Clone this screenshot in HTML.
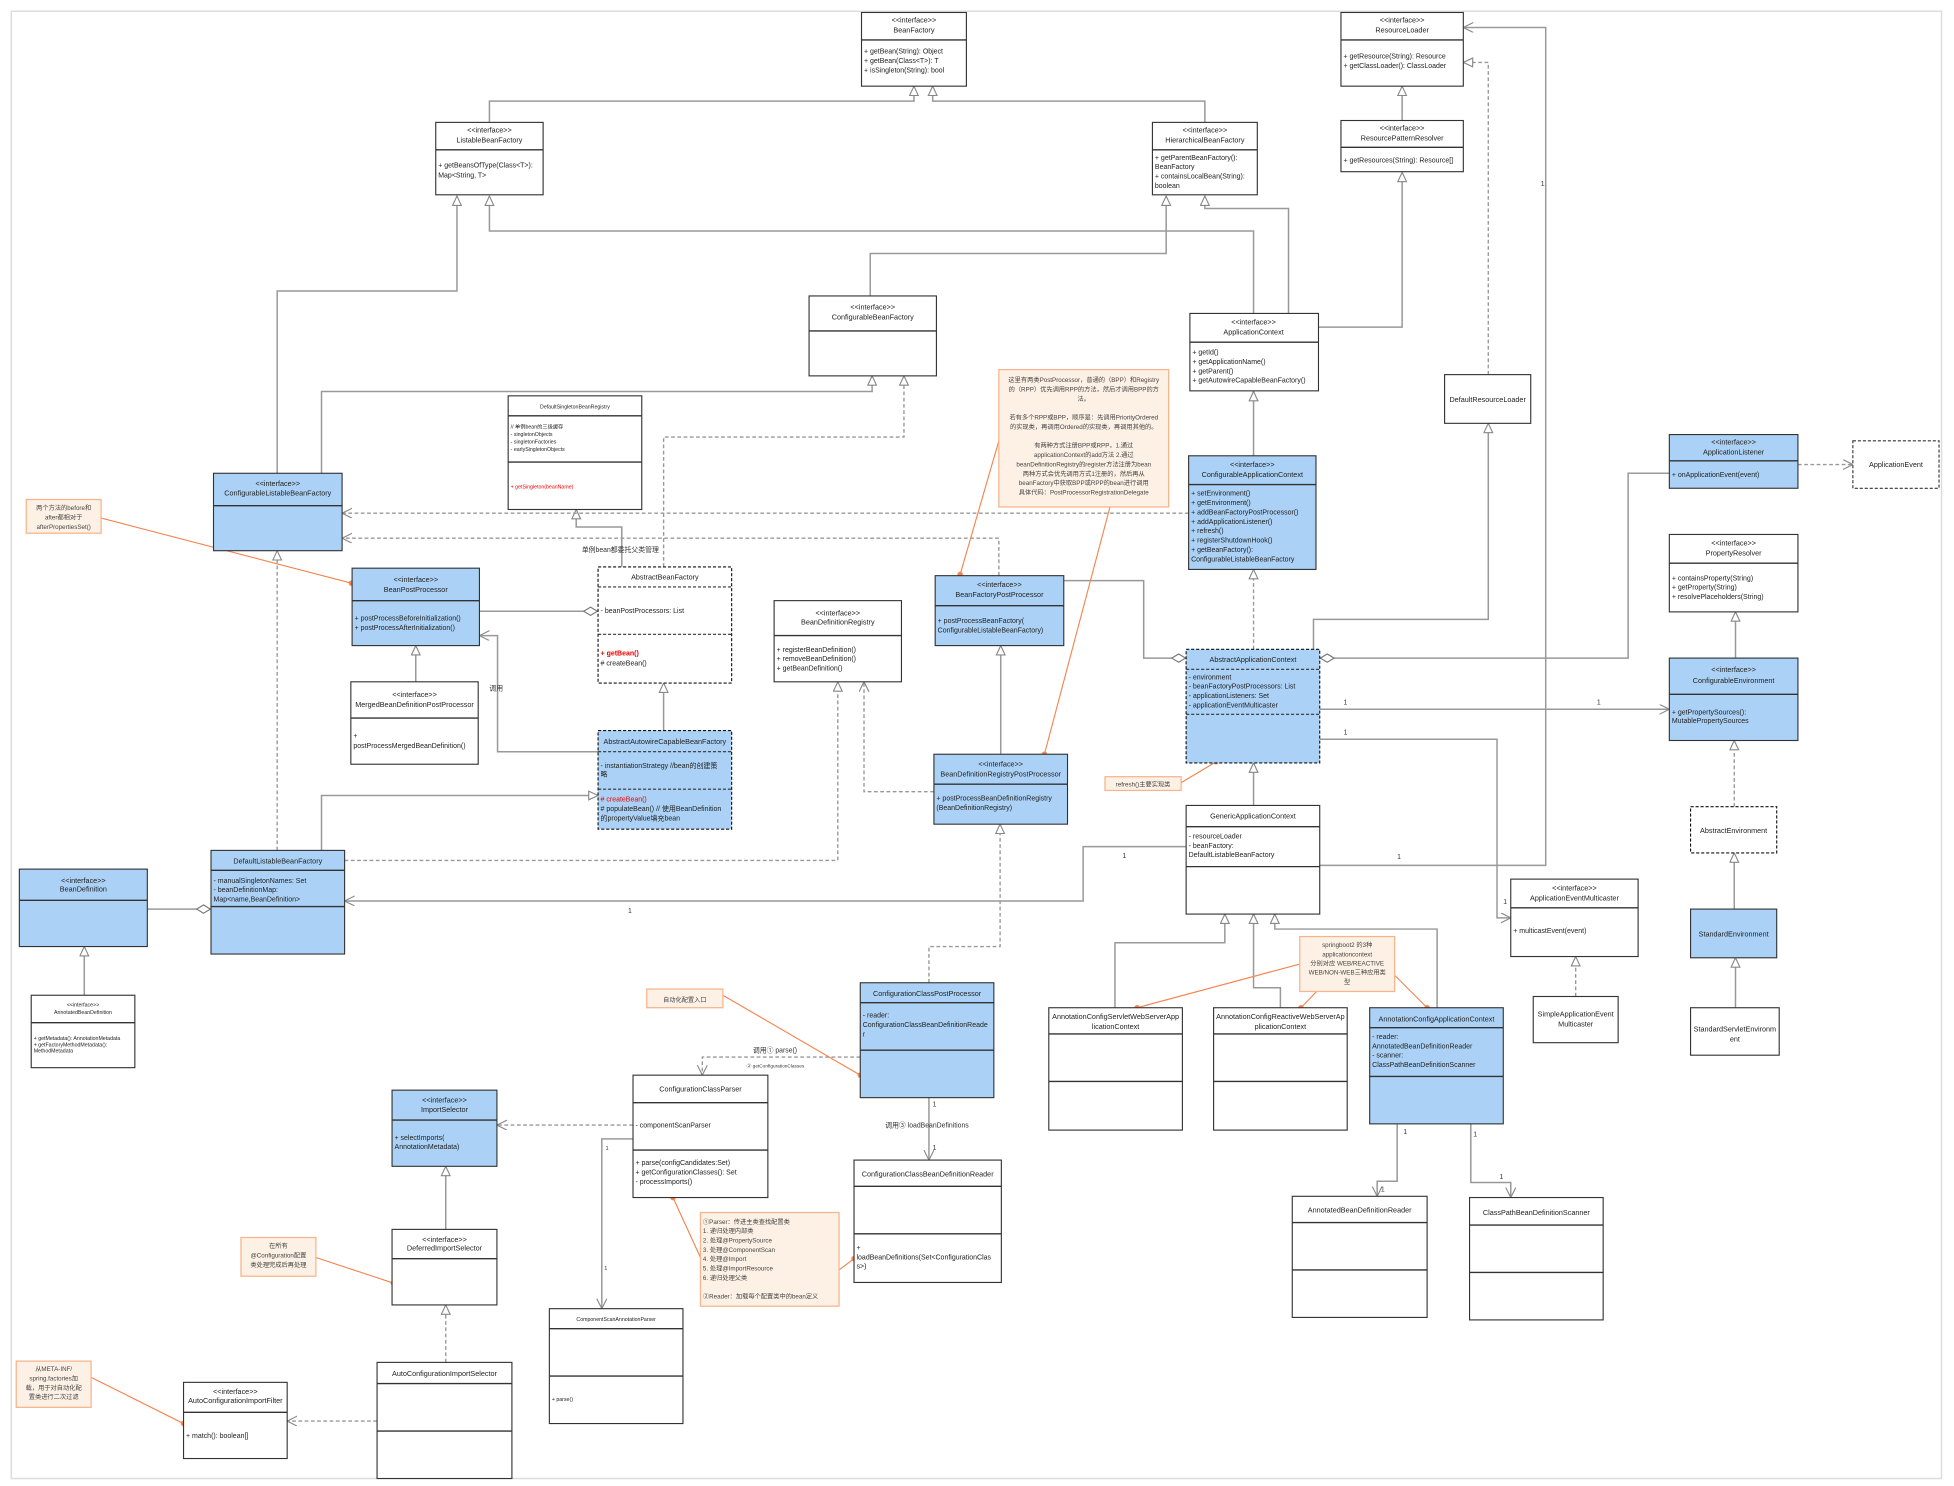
<!DOCTYPE html>
<html><head><meta charset="utf-8"><style>
html,body{margin:0;padding:0;background:#fff;}
svg{display:block}
text{font-family:"Liberation Sans","Noto Sans CJK SC",sans-serif;fill:#222;font-size:5.6px}
.h{text-anchor:middle;font-size:5.8px}
.s{font-size:4.2px}
.r{fill:#e00}
.b{fill:#fff;stroke:#333;stroke-width:0.9}
.bl{fill:#abd2f6;stroke:#333;stroke-width:0.9}
.bd{stroke-dasharray:2.5,1.5}
.dv{stroke:#333;stroke-width:1.1}
.dvd{stroke:#333;stroke-width:0.9;stroke-dasharray:2.5,1.5}
.c{fill:none;stroke:#999;stroke-width:1.2}
.d{fill:none;stroke:#999;stroke-width:1.1;stroke-dasharray:3,2}
.o{fill:none;stroke:#f5834e;stroke-width:0.9}
.n{fill:#fdf1e6;stroke:#f7b48a;stroke-width:1}
.nt{font-size:5px;text-anchor:middle;fill:#444}
.l{font-size:5.5px;fill:#333}
</style></head><body>
<svg width="1954" height="1486" viewBox="0 0 1565 1190" preserveAspectRatio="none" xmlns="http://www.w3.org/2000/svg">
<defs>
<marker id="tri" markerUnits="userSpaceOnUse" markerWidth="10" markerHeight="10" refX="8" refY="4" orient="auto"><path d="M0.5,0.5 L8,4 L0.5,7.5 z" fill="#fff" stroke="#888" stroke-width="0.9"/></marker>
<marker id="op" markerUnits="userSpaceOnUse" markerWidth="10" markerHeight="10" refX="8" refY="4" orient="auto"><path d="M0,0 L8,4 L0,8" fill="none" stroke="#888" stroke-width="0.9"/></marker>
<marker id="dia" markerUnits="userSpaceOnUse" markerWidth="14" markerHeight="10" refX="12" refY="4" orient="auto"><path d="M0.5,4 L6,0.7 L11.5,4 L6,7.3 z" fill="#fff" stroke="#777" stroke-width="0.9"/></marker>
<marker id="dot" markerUnits="userSpaceOnUse" markerWidth="6" markerHeight="6" refX="3" refY="3"><circle cx="3" cy="3" r="2.2" fill="#f5834e"/></marker>
</defs>
<rect x="0" y="0" width="1565" height="1190" fill="#fff"/>
<rect x="9" y="9" width="1546" height="1175" fill="none" stroke="#ddd" stroke-width="1.2"/>

<!-- connectors -->
<path class="c" d="M392,98 V81 H732 V69" marker-end="url(#tri)"/>
<path class="c" d="M965,98 V81 H747 V69" marker-end="url(#tri)"/>
<path class="c" d="M697,237 V203 H934 V157" marker-end="url(#tri)"/>
<path class="c" d="M1004,251 V185 H392 V157" marker-end="url(#tri)"/>
<path class="c" d="M1032,251 V167 H965 V157" marker-end="url(#tri)"/>
<path class="c" d="M1056,262 H1123 V138" marker-end="url(#tri)"/>
<path class="c" d="M1123,96.5 V69" marker-end="url(#tri)"/>
<path class="d" d="M1192,300 V50 H1172" marker-end="url(#tri)"/>
<path class="c" d="M222,379 V233 H366 V157" marker-end="url(#tri)"/>
<path class="c" d="M257.5,379 V313.5 H698.5 V301" marker-end="url(#tri)"/>
<path class="d" d="M531.5,454 V350 H724 V301" marker-end="url(#tri)"/>
<path class="c" d="M498,454 V422 H461.5 V408" marker-end="url(#tri)"/>
<path class="d" d="M952,411 H274" marker-end="url(#op)"/>
<path class="d" d="M800,461 V431 H274" marker-end="url(#op)"/>
<path class="c" d="M384,489.5 H479" marker-end="url(#dia)"/>
<path class="c" d="M479,602 H398.5 V509 H384" marker-end="url(#op)"/>
<path class="c" d="M333,546 V517" marker-end="url(#tri)"/>
<path class="d" d="M222,681 V441" marker-end="url(#tri)"/>
<path class="c" d="M531.5,585 V547" marker-end="url(#tri)"/>
<path class="c" d="M257.5,681 V637 H479" marker-end="url(#tri)"/>
<path class="d" d="M276,689 H671 V546" marker-end="url(#tri)"/>
<path class="d" d="M748,634 H692 V546" marker-end="url(#op)"/>
<path class="c" d="M801.5,604 V517" marker-end="url(#tri)"/>
<path class="c" d="M852,465 H916 V527 H950" marker-end="url(#dia)"/>
<path class="d" d="M1004,520 V456" marker-end="url(#tri)"/>
<path class="c" d="M1004,365 V313.5" marker-end="url(#tri)"/>
<path class="c" d="M1337,379 H1304 V527 H1057" marker-end="url(#dia)"/>
<path class="c" d="M1052,520 V496 H1192 V339" marker-end="url(#tri)"/>
<path class="c" d="M1057,568 H1337" marker-end="url(#op)"/>
<path class="c" d="M1057,592 H1199 V735 H1210" marker-end="url(#op)"/>
<path class="c" d="M1057,693 H1238 V22 H1172" marker-end="url(#op)"/>
<path class="c" d="M1004,645 V611" marker-end="url(#tri)"/>
<path class="c" d="M950,678 H867.5 V721.5 H276" marker-end="url(#op)"/>
<path class="c" d="M893,807 V755 H981 V732" marker-end="url(#tri)"/>
<path class="c" d="M1025.5,807 V791 H1004 V732" marker-end="url(#tri)"/>
<path class="c" d="M1151,807 V744 H1021 V732" marker-end="url(#tri)"/>
<path class="d" d="M1262,798 V766" marker-end="url(#tri)"/>
<path class="c" d="M1390,807 V767" marker-end="url(#tri)"/>
<path class="c" d="M1389,728 V683" marker-end="url(#tri)"/>
<path class="d" d="M1389,646 V593" marker-end="url(#tri)"/>
<path class="c" d="M1390,527 V490" marker-end="url(#tri)"/>
<path class="d" d="M1440,372 H1484" marker-end="url(#op)"/>
<path class="c" d="M1119,900 V946 H1103 V958" marker-end="url(#op)"/>
<path class="c" d="M1178,900 V947 H1210 V959" marker-end="url(#op)"/>
<path class="c" d="M118,728 H169" marker-end="url(#dia)"/>
<path class="c" d="M67.5,797 V758" marker-end="url(#tri)"/>
<path class="d" d="M744,787 V758 H801 V660" marker-end="url(#tri)"/>
<path class="d" d="M689,846.5 H562.5 V861" marker-end="url(#op)"/>
<path class="c" d="M744,879 V929" marker-end="url(#op)"/>
<path class="d" d="M507,901 H398" marker-end="url(#op)"/>
<path class="c" d="M507,912 H482 V1048" marker-end="url(#op)"/>
<path class="c" d="M357,984.5 V934" marker-end="url(#tri)"/>
<path class="d" d="M357,1091 V1045" marker-end="url(#tri)"/>
<path class="d" d="M302,1138 H230" marker-end="url(#op)"/>

<!-- labels -->
<text class="l" x="1076" y="564">1</text><text class="l" x="1279" y="564">1</text>
<text class="l" x="1076" y="588">1</text><text class="l" x="1204" y="724">1</text>
<text class="l" x="1234" y="149">1</text><text class="l" x="1119" y="688">1</text>
<text class="l" x="899" y="687">1</text><text class="l" x="503" y="731">1</text>
<text class="l" x="1124" y="908">1</text><text class="l" x="1106" y="954">1</text>
<text class="l" x="1180" y="910">1</text><text class="l" x="1201" y="944">1</text>
<text class="l" x="747" y="886">1</text><text class="l" x="747" y="921">1</text>
<text class="l" x="485" y="921" style="font-size:4.5px">1</text><text class="l" x="484" y="1017" style="font-size:4.5px">1</text>
<text class="l" x="466" y="442">单例bean都委托父类管理</text>
<text class="l" x="392" y="553">调用</text>
<text class="l" x="603" y="843">调用① parse()</text>
<text class="l" x="598" y="855" style="font-size:3.8px">② getConfigurationClasses</text>
<text class="l" x="709" y="903">调用③ loadBeanDefinitions</text>

<!-- orange note lines -->
<path class="o" d="M81.5,415 L281.5,467" marker-end="url(#dot)"/>
<path class="o" d="M800,353 L769,460" marker-end="url(#dot)"/>
<path class="o" d="M889,406 L836.5,604" marker-end="url(#dot)"/>
<path class="o" d="M945.6,627 L974,610" marker-end="url(#dot)"/>
<path class="o" d="M1041,772 L910.7,807" marker-end="url(#dot)"/>
<path class="o" d="M1054.5,794 L1042,807" marker-end="url(#dot)"/>
<path class="o" d="M1117,781 L1143,807" marker-end="url(#dot)"/>
<path class="o" d="M579,797 L689,861" marker-end="url(#dot)"/>
<path class="o" d="M561,1007 L539,959" marker-end="url(#dot)"/>
<path class="o" d="M672,1017 L684,1008" marker-end="url(#dot)"/>
<path class="o" d="M253,1007 L315,1027.5" marker-end="url(#dot)"/>
<path class="o" d="M73,1103 L147,1140" marker-end="url(#dot)"/>

<!-- BeanFactory -->
<rect class="b" x="690" y="10" width="84" height="59"/><line class="dv" x1="690" y1="32" x2="774" y2="32"/>
<text class="h" x="732" y="18">&lt;&lt;interface&gt;&gt;</text><text class="h" x="732" y="26">BeanFactory</text>
<text x="692" y="43">+  getBean(String): Object</text><text x="692" y="50.5">+  getBean(Class&lt;T&gt;): T</text><text x="692" y="58">+  isSingleton(String): bool</text>

<!-- ListableBeanFactory -->
<rect class="b" x="349" y="98" width="86" height="58"/><line class="dv" x1="349" y1="120" x2="435" y2="120"/>
<text class="h" x="392" y="106">&lt;&lt;interface&gt;&gt;</text><text class="h" x="392" y="114">ListableBeanFactory</text>
<text x="351" y="134">+  getBeansOfType(Class&lt;T&gt;):</text><text x="351" y="142">Map&lt;String, T&gt;</text>

<!-- HierarchicalBeanFactory -->
<rect class="b" x="923" y="98" width="84" height="58"/><line class="dv" x1="923" y1="120" x2="1007" y2="120"/>
<text class="h" x="965" y="106">&lt;&lt;interface&gt;&gt;</text><text class="h" x="965" y="114">HierarchicalBeanFactory</text>
<text x="925" y="128">+  getParentBeanFactory():</text><text x="925" y="135.5">BeanFactory</text><text x="925" y="143">+  containsLocalBean(String):</text><text x="925" y="150.5">boolean</text>

<!-- ResourceLoader -->
<rect class="b" x="1074" y="10" width="98" height="59"/><line class="dv" x1="1074" y1="32" x2="1172" y2="32"/>
<text class="h" x="1123" y="18">&lt;&lt;interface&gt;&gt;</text><text class="h" x="1123" y="26">ResourceLoader</text>
<text x="1076" y="47">+  getResource(String): Resource</text><text x="1076" y="54.5">+  getClassLoader(): ClassLoader</text>

<!-- ResourcePatternResolver -->
<rect class="b" x="1074" y="96.5" width="98" height="41"/><line class="dv" x1="1074" y1="118" x2="1172" y2="118"/>
<text class="h" x="1123" y="104.5">&lt;&lt;interface&gt;&gt;</text><text class="h" x="1123" y="112.5">ResourcePatternResolver</text>
<text x="1076" y="130">+  getResources(String): Resource[]</text>

<!-- ConfigurableBeanFactory -->
<rect class="b" x="648" y="237" width="102" height="64"/><line class="dv" x1="648" y1="265" x2="750" y2="265"/>
<text class="h" x="699" y="248">&lt;&lt;interface&gt;&gt;</text><text class="h" x="699" y="256">ConfigurableBeanFactory</text>

<!-- ApplicationContext -->
<rect class="b" x="953" y="251" width="103" height="62"/><line class="dv" x1="953" y1="274" x2="1056" y2="274"/>
<text class="h" x="1004" y="260">&lt;&lt;interface&gt;&gt;</text><text class="h" x="1004" y="268">ApplicationContext</text>
<text x="955" y="284">+  getId()</text><text x="955" y="291.5">+  getApplicationName()</text><text x="955" y="299">+  getParent()</text><text x="955" y="306.5">+  getAutowireCapableBeanFactory()</text>

<!-- DefaultResourceLoader -->
<rect class="b" x="1157" y="300" width="69" height="39"/>
<text class="h" x="1191.5" y="322">DefaultResourceLoader</text>

<!-- DefaultSingletonBeanRegistry -->
<rect class="b" x="407" y="317" width="107" height="91"/><line class="dv" x1="407" y1="333" x2="514" y2="333"/><line class="dv" x1="407" y1="370" x2="514" y2="370"/>
<text class="h s" x="460.5" y="327">DefaultSingletonBeanRegistry</text>
<text class="s" x="409" y="343">// 单例bean的三级缓存</text><text class="s" x="409" y="349">- singletonObjects</text><text class="s" x="409" y="355">- singletonFactories</text><text class="s" x="409" y="361">- earlySingletonObjects</text>
<text class="s r" x="409" y="391">+  getSingleton(beanName)</text>

<!-- ConfigurableListableBeanFactory -->
<rect class="bl" x="171" y="379" width="103" height="62"/><line class="dv" x1="171" y1="405" x2="274" y2="405"/>
<text class="h" x="222.5" y="389">&lt;&lt;interface&gt;&gt;</text><text class="h" x="222.5" y="397">ConfigurableListableBeanFactory</text>

<!-- ConfigurableApplicationContext -->
<rect class="bl" x="952" y="365" width="102" height="91"/><line class="dv" x1="952" y1="388" x2="1054" y2="388"/>
<text class="h" x="1003" y="374">&lt;&lt;interface&gt;&gt;</text><text class="h" x="1003" y="382">ConfigurableApplicationContext</text>
<text x="954" y="397">+  setEnvironment()</text><text x="954" y="404.5">+  getEnvironment()</text><text x="954" y="412">+  addBeanFactoryPostProcessor()</text><text x="954" y="419.5">+  addApplicationListener()</text><text x="954" y="427">+  refresh()</text><text x="954" y="434.5">+  registerShutdownHook()</text><text x="954" y="442">+  getBeanFactory():</text><text x="954" y="449.5">ConfigurableListableBeanFactory</text>

<!-- ApplicationListener -->
<rect class="bl" x="1337" y="348" width="103" height="43"/><line class="dv" x1="1337" y1="369" x2="1440" y2="369"/>
<text class="h" x="1388.5" y="356">&lt;&lt;interface&gt;&gt;</text><text class="h" x="1388.5" y="364">ApplicationListener</text>
<text x="1339" y="382">+  onApplicationEvent(event)</text>

<!-- ApplicationEvent -->
<rect class="b bd" x="1484" y="353" width="69" height="38"/>
<text class="h" x="1518.5" y="374">ApplicationEvent</text>

<!-- PropertyResolver -->
<rect class="b" x="1337" y="428" width="103" height="62"/><line class="dv" x1="1337" y1="451" x2="1440" y2="451"/>
<text class="h" x="1388.5" y="437">&lt;&lt;interface&gt;&gt;</text><text class="h" x="1388.5" y="445">PropertyResolver</text>
<text x="1339" y="465">+  containsProperty(String)</text><text x="1339" y="472">+  getProperty(String)</text><text x="1339" y="479.5">+  resolvePlaceholders(String)</text>

<!-- ConfigurableEnvironment -->
<rect class="bl" x="1337" y="527" width="103" height="66"/><line class="dv" x1="1337" y1="556" x2="1440" y2="556"/>
<text class="h" x="1388.5" y="538">&lt;&lt;interface&gt;&gt;</text><text class="h" x="1388.5" y="547">ConfigurableEnvironment</text>
<text x="1339" y="572">+  getPropertySources():</text><text x="1339" y="579">MutablePropertySources</text>

<!-- BeanPostProcessor -->
<rect class="bl" x="282" y="455" width="102" height="62"/><line class="dv" x1="282" y1="481" x2="384" y2="481"/>
<text class="h" x="333" y="466">&lt;&lt;interface&gt;&gt;</text><text class="h" x="333" y="474">BeanPostProcessor</text>
<text x="284" y="497">+  postProcessBeforeInitialization()</text><text x="284" y="504.5">+  postProcessAfterInitialization()</text>

<!-- AbstractBeanFactory -->
<rect class="b bd" x="479" y="454" width="107" height="93" style="stroke:#111"/><line class="dvd" x1="479" y1="470" x2="586" y2="470"/><line class="dvd" x1="479" y1="508" x2="586" y2="508"/>
<text class="h" x="532.5" y="464">AbstractBeanFactory</text>
<text x="481" y="491">- beanPostProcessors: List</text>
<text x="481" y="525" class="r" style="font-weight:bold">+  getBean()</text><text x="481" y="533">#  createBean()</text>

<!-- BeanDefinitionRegistry -->
<rect class="b" x="620" y="481" width="102" height="65"/><line class="dv" x1="620" y1="509" x2="722" y2="509"/>
<text class="h" x="671" y="493">&lt;&lt;interface&gt;&gt;</text><text class="h" x="671" y="500">BeanDefinitionRegistry</text>
<text x="622" y="522">+  registerBeanDefinition()</text><text x="622" y="529.5">+  removeBeanDefinition()</text><text x="622" y="537">+  getBeanDefinition()</text>

<!-- BeanFactoryPostProcessor -->
<rect class="bl" x="749" y="461" width="103" height="56"/><line class="dv" x1="749" y1="485" x2="852" y2="485"/>
<text class="h" x="800.5" y="470">&lt;&lt;interface&gt;&gt;</text><text class="h" x="800.5" y="478">BeanFactoryPostProcessor</text>
<text x="751" y="499">+  postProcessBeanFactory(</text><text x="751" y="506.5">ConfigurableListableBeanFactory)</text>

<!-- MergedBeanDefinitionPostProcessor -->
<rect class="b" x="281" y="546" width="102" height="66"/><line class="dv" x1="281" y1="575" x2="383" y2="575"/>
<text class="h" x="332" y="558">&lt;&lt;interface&gt;&gt;</text><text class="h" x="332" y="566">MergedBeanDefinitionPostProcessor</text>
<text x="283" y="591">+</text><text x="283" y="599">postProcessMergedBeanDefinition()</text>

<!-- AbstractAutowireCapableBeanFactory -->
<rect class="bl bd" x="479" y="585" width="107" height="79" style="stroke:#111"/><line class="dvd" x1="479" y1="602" x2="586" y2="602"/><line class="dvd" x1="479" y1="632" x2="586" y2="632"/>
<text class="h" x="532.5" y="596">AbstractAutowireCapableBeanFactory</text>
<text x="481" y="615">- instantiationStrategy  //bean的创建策</text><text x="481" y="622">略</text>
<text x="481" y="642" class="r">#  createBean()</text><text x="481" y="649.5">#  populateBean() // 使用BeanDefinition</text><text x="481" y="657">的propertyValue填充bean</text>

<!-- BeanDefinitionRegistryPostProcessor -->
<rect class="bl" x="748" y="604" width="107" height="56"/><line class="dv" x1="748" y1="628" x2="855" y2="628"/>
<text class="h" x="801.5" y="614">&lt;&lt;interface&gt;&gt;</text><text class="h" x="801.5" y="622">BeanDefinitionRegistryPostProcessor</text>
<text x="750" y="641">+  postProcessBeanDefinitionRegistry</text><text x="750" y="648.5">(BeanDefinitionRegistry)</text>

<!-- AbstractApplicationContext -->
<rect class="bl bd" x="950" y="520" width="107" height="91" style="stroke:#111"/><line class="dvd" x1="950" y1="536" x2="1057" y2="536"/><line class="dvd" x1="950" y1="572" x2="1057" y2="572"/>
<text class="h" x="1003.5" y="530">AbstractApplicationContext</text>
<text x="952" y="544">- environment</text><text x="952" y="551.5">- beanFactoryPostProcessors: List</text><text x="952" y="559">- applicationListeners: Set</text><text x="952" y="566.5">- applicationEventMulticaster</text>

<!-- GenericApplicationContext -->
<rect class="b" x="950" y="645" width="107" height="87"/><line class="dv" x1="950" y1="662" x2="1057" y2="662"/><line class="dv" x1="950" y1="694" x2="1057" y2="694"/>
<text class="h" x="1003.5" y="655.5">GenericApplicationContext</text>
<text x="952" y="671.5">- resourceLoader</text><text x="952" y="679">- beanFactory:</text><text x="952" y="686.5">DefaultListableBeanFactory</text>

<!-- DefaultListableBeanFactory -->
<rect class="bl" x="169" y="681" width="107" height="83"/><line class="dv" x1="169" y1="697" x2="276" y2="697"/><line class="dv" x1="169" y1="726" x2="276" y2="726"/>
<text class="h" x="222.5" y="691.5">DefaultListableBeanFactory</text>
<text x="171" y="707">- manualSingletonNames: Set</text><text x="171" y="714.5">- beanDefinitionMap:</text><text x="171" y="722">Map&lt;name,BeanDefinition&gt;</text>

<!-- BeanDefinition -->
<rect class="bl" x="15.5" y="696" width="102.5" height="62"/><line class="dv" x1="15.5" y1="721" x2="118" y2="721"/>
<text class="h" x="66.75" y="707">&lt;&lt;interface&gt;&gt;</text><text class="h" x="66.75" y="714">BeanDefinition</text>

<!-- AnnotatedBeanDefinition -->
<rect class="b" x="25" y="797" width="83" height="58"/><line class="dv" x1="25" y1="819" x2="108" y2="819"/>
<text class="h s" x="66.5" y="806">&lt;&lt;interface&gt;&gt;</text><text class="h s" x="66.5" y="812">AnnotatedBeanDefinition</text>
<text class="s" x="27" y="833">+  getMetadata(): AnnotationMetadata</text><text class="s" x="27" y="838">+  getFactoryMethodMetadata():</text><text class="s" x="27" y="843">MethodMetadata</text>

<!-- ApplicationEventMulticaster -->
<rect class="b" x="1210" y="704" width="102" height="62"/><line class="dv" x1="1210" y1="727" x2="1312" y2="727"/>
<text class="h" x="1261" y="713">&lt;&lt;interface&gt;&gt;</text><text class="h" x="1261" y="721">ApplicationEventMulticaster</text>
<text x="1212" y="747">+  multicastEvent(event)</text>

<!-- SimpleApplicationEventMulticaster -->
<rect class="b" x="1228" y="798" width="68" height="37"/>
<text class="h" x="1262" y="814">SimpleApplicationEvent</text><text class="h" x="1262" y="822">Multicaster</text>

<!-- Environments -->
<rect class="b bd" x="1354" y="646" width="69" height="37" style="stroke:#111"/>
<text class="h" x="1388.5" y="667">AbstractEnvironment</text>
<rect class="bl" x="1354" y="728" width="69" height="39"/>
<text class="h" x="1388.5" y="750">StandardEnvironment</text>
<rect class="b" x="1354" y="807" width="71" height="38"/>
<text class="h" x="1389.5" y="826">StandardServletEnvironm</text><text class="h" x="1389.5" y="834">ent</text>

<!-- Servlet ctx -->
<rect class="b" x="840" y="807" width="107" height="98"/><line class="dv" x1="840" y1="828" x2="947" y2="828"/><line class="dv" x1="840" y1="866" x2="947" y2="866"/>
<text class="h" x="893.5" y="816">AnnotationConfigServletWebServerApp</text><text class="h" x="893.5" y="824">licationContext</text>

<!-- Reactive ctx -->
<rect class="b" x="972" y="807" width="107" height="98"/><line class="dv" x1="972" y1="828" x2="1079" y2="828"/><line class="dv" x1="972" y1="866" x2="1079" y2="866"/>
<text class="h" x="1025.5" y="816">AnnotationConfigReactiveWebServerAp</text><text class="h" x="1025.5" y="824">plicationContext</text>

<!-- AnnotationConfigApplicationContext -->
<rect class="bl" x="1097" y="807" width="107" height="93"/><line class="dv" x1="1097" y1="823" x2="1204" y2="823"/><line class="dv" x1="1097" y1="862" x2="1204" y2="862"/>
<text class="h" x="1150.5" y="818">AnnotationConfigApplicationContext</text>
<text x="1099" y="832">- reader:</text><text x="1099" y="839.5">AnnotatedBeanDefinitionReader</text><text x="1099" y="847">- scanner:</text><text x="1099" y="854.5">ClassPathBeanDefinitionScanner</text>

<!-- AnnotatedBeanDefinitionReader -->
<rect class="b" x="1035" y="958" width="108" height="97"/><line class="dv" x1="1035" y1="979" x2="1143" y2="979"/><line class="dv" x1="1035" y1="1017" x2="1143" y2="1017"/>
<text class="h" x="1089" y="971">AnnotatedBeanDefinitionReader</text>

<!-- ClassPathBeanDefinitionScanner -->
<rect class="b" x="1177" y="959" width="107" height="98"/><line class="dv" x1="1177" y1="981" x2="1284" y2="981"/><line class="dv" x1="1177" y1="1019" x2="1284" y2="1019"/>
<text class="h" x="1230.5" y="973">ClassPathBeanDefinitionScanner</text>

<!-- ConfigurationClassPostProcessor -->
<rect class="bl" x="689" y="787" width="107" height="92"/><line class="dv" x1="689" y1="803" x2="796" y2="803"/><line class="dv" x1="689" y1="841" x2="796" y2="841"/>
<text class="h" x="742.5" y="797.5">ConfigurationClassPostProcessor</text>
<text x="691" y="815">- reader:</text><text x="691" y="822.5">ConfigurationClassBeanDefinitionReade</text><text x="691" y="830">r</text>

<!-- ConfigurationClassParser -->
<rect class="b" x="507" y="861" width="108" height="98"/><line class="dv" x1="507" y1="883" x2="615" y2="883"/><line class="dv" x1="507" y1="921" x2="615" y2="921"/>
<text class="h" x="561" y="874">ConfigurationClassParser</text>
<text x="509" y="903">- componentScanParser</text>
<text x="509" y="933">+  parse(configCandidates:Set)</text><text x="509" y="940.5">+  getConfigurationClasses(): Set</text><text x="509" y="948">-  processImports()</text>

<!-- ConfigurationClassBeanDefinitionReader -->
<rect class="b" x="684" y="929" width="118" height="98"/><line class="dv" x1="684" y1="950" x2="802" y2="950"/><line class="dv" x1="684" y1="988" x2="802" y2="988"/>
<text class="h" x="743" y="942">ConfigurationClassBeanDefinitionReader</text>
<text x="686" y="1001">+</text><text x="686" y="1008.5">loadBeanDefinitions(Set&lt;ConfigurationClas</text><text x="686" y="1016">s&gt;)</text>

<!-- ImportSelector -->
<rect class="bl" x="314" y="873" width="84" height="61"/><line class="dv" x1="314" y1="897" x2="398" y2="897"/>
<text class="h" x="356" y="883">&lt;&lt;interface&gt;&gt;</text><text class="h" x="356" y="890.5">ImportSelector</text>
<text x="316" y="913">+ selectImports(</text><text x="316" y="920">AnnotationMetadata)</text>

<!-- DeferredImportSelector -->
<rect class="b" x="314" y="984.5" width="84" height="60.5"/><line class="dv" x1="314" y1="1008" x2="398" y2="1008"/>
<text class="h" x="356" y="994.5">&lt;&lt;interface&gt;&gt;</text><text class="h" x="356" y="1001.5">DeferredImportSelector</text>

<!-- AutoConfigurationImportSelector -->
<rect class="b" x="302" y="1091" width="108" height="93"/><line class="dv" x1="302" y1="1108" x2="410" y2="1108"/><line class="dv" x1="302" y1="1146" x2="410" y2="1146"/>
<text class="h" x="356" y="1102">AutoConfigurationImportSelector</text>

<!-- AutoConfigurationImportFilter -->
<rect class="b" x="147" y="1107" width="83" height="61"/><line class="dv" x1="147" y1="1131" x2="230" y2="1131"/>
<text class="h" x="188.5" y="1116.5">&lt;&lt;interface&gt;&gt;</text><text class="h" x="188.5" y="1123.5">AutoConfigurationImportFilter</text>
<text x="149" y="1151.5">+  match(): boolean[]</text>

<!-- ComponentScanAnnotationParser -->
<rect class="b" x="440" y="1048" width="107" height="92"/><line class="dv" x1="440" y1="1064" x2="547" y2="1064"/><line class="dv" x1="440" y1="1102" x2="547" y2="1102"/>
<text class="h s" x="493.5" y="1058">ComponentScanAnnotationParser</text>
<text class="s" x="442" y="1122">+  parse()</text>

<!-- notes -->
<rect class="n" x="21" y="400" width="60" height="27"/>
<text class="nt" x="51" y="408.5">两个方法的before和</text><text class="nt" x="51" y="416">after都相对于</text><text class="nt" x="51" y="423.5">afterPropertiesSet()</text>

<rect class="n" x="800" y="296" width="136" height="110"/>
<text class="nt" x="868" y="306">这里有两类PostProcessor，普通的（BPP）和Registry</text>
<text class="nt" x="868" y="313.5">的（RPP）优先调用RPP的方法，然后才调用BPP的方</text>
<text class="nt" x="868" y="321">法。</text>
<text class="nt" x="868" y="336">若有多个RPP或BPP，顺序是：先调用PriorityOrdered</text>
<text class="nt" x="868" y="343.5">的实现类，再调用Ordered的实现类，再调用其他的。</text>
<text class="nt" x="868" y="358.5">有两种方式注册BPP或RPP，1.通过</text>
<text class="nt" x="868" y="366">applicationContext的add方法  2.通过</text>
<text class="nt" x="868" y="373.5">beanDefinitionRegistry的register方法注册为bean</text>
<text class="nt" x="868" y="381">两种方式会优先调用方式1注册的，然后再从</text>
<text class="nt" x="868" y="388.5">beanFactory中获取BPP或RPP的bean进行调用</text>
<text class="nt" x="868" y="396">具体代码：PostProcessorRegistrationDelegate</text>

<rect class="n" x="885" y="622" width="61" height="11"/>
<text class="nt" x="915.5" y="630">refresh()主要实现类</text>

<rect class="n" x="1041" y="750" width="76" height="44"/>
<text class="nt" x="1079" y="758.5">springboot2 的3种</text><text class="nt" x="1079" y="766">applicationcontext</text><text class="nt" x="1079" y="773">分别对应 WEB/REACTIVE</text><text class="nt" x="1079" y="780.5">WEB/NON-WEB三种应用类</text><text class="nt" x="1079" y="788">型</text>

<rect class="n" x="518" y="792" width="61" height="15"/>
<text class="nt" x="548.5" y="802.5">自动化配置入口</text>

<rect class="n" x="561" y="971" width="111" height="75"/>
<text class="nt" x="563" y="980" style="text-anchor:start">①Parser：传进主类查找配置类</text>
<text class="nt" x="563" y="987.5" style="text-anchor:start">1. 递归处理内部类</text>
<text class="nt" x="563" y="995" style="text-anchor:start">2. 处理@PropertySource</text>
<text class="nt" x="563" y="1002.5" style="text-anchor:start">3. 处理@ComponentScan</text>
<text class="nt" x="563" y="1010" style="text-anchor:start">4. 处理@Import</text>
<text class="nt" x="563" y="1017.5" style="text-anchor:start">5. 处理@ImportResource</text>
<text class="nt" x="563" y="1025" style="text-anchor:start">6. 递归处理父类</text>
<text class="nt" x="563" y="1040" style="text-anchor:start">②Reader：加载每个配置类中的bean定义</text>

<rect class="n" x="193" y="991" width="60" height="31"/>
<text class="nt" x="223" y="999.5">在所有</text><text class="nt" x="223" y="1007">@Configuration配置</text><text class="nt" x="223" y="1014.5">类处理完成后再处理</text>

<rect class="n" x="13" y="1090" width="60" height="37"/>
<text class="nt" x="43" y="1098">从META-INF/</text><text class="nt" x="43" y="1105.5">spring.factories加</text><text class="nt" x="43" y="1113">载，用于对自动化配</text><text class="nt" x="43" y="1120.5">置类进行二次过滤</text>
</svg>
</body></html>
